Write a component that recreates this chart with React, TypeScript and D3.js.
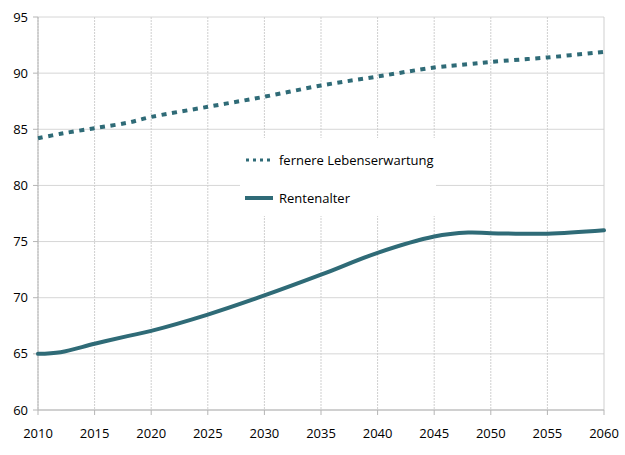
import * as d3 from 'd3'

const years = [2010, 2012, 2015, 2018, 2020, 2025, 2030, 2035, 2040, 2045, 2048, 2050, 2055, 2060]
const lebenserwartung = [84.2, 84.6, 85.1, 85.6, 86.1, 87.0, 87.9, 88.9, 89.7, 90.5, 90.8, 91.0, 91.4, 91.9]
const rentenalter = [65.0, 65.15, 65.9, 66.6, 67.05, 68.5, 70.2, 72.05, 74.0, 75.45, 75.8, 75.75, 75.7, 76.0]

const xTicks = [2010, 2015, 2020, 2025, 2030, 2035, 2040, 2045, 2050, 2055, 2060]
const yTicks = [60, 65, 70, 75, 80, 85, 90, 95]

const labelLebenserwartung = 'fernere Lebenserwartung'
const labelRentenalter = 'Rentenalter'

const WIDTH = 625
const HEIGHT = 455
const margin = { top: 17, right: 21, bottom: 45, left: 38 }
const TEAL = '#2f6b77'
const FONT = '"Open Sans", sans-serif'

export default function App() {
  const x = d3.scaleLinear().domain([2010, 2060]).range([margin.left, WIDTH - margin.right])
  const y = d3.scaleLinear().domain([60, 95]).range([HEIGHT - margin.bottom, margin.top])

  const line = (vals: number[]) =>
    d3
      .line<number>()
      .x((_, i) => x(years[i]))
      .y((d) => y(d))
      .curve(d3.curveCatmullRom.alpha(0.5))(vals) ?? ''

  // legend box blocks the grid underneath
  const legend = { x: 240, y: 138, w: 196, h: 78 }

  return (
    <svg
      width={WIDTH}
      height={HEIGHT}
      style={{ position: 'absolute', left: 0, top: 0, background: '#fff' }}
      fontFamily={FONT}
    >
      {/* grid */}
      {yTicks.map((t) => (
        <line key={'h' + t} x1={x(2010)} x2={x(2060)} y1={y(t)} y2={y(t)} stroke="#d6d6d6" strokeWidth={1} />
      ))}
      {xTicks.map((t) => (
        <line
          key={'v' + t}
          x1={x(t)}
          x2={x(t)}
          y1={y(95)}
          y2={y(60)}
          stroke="#cfcfcf"
          strokeWidth={1}
          strokeDasharray={t === 2060 ? undefined : '2,1'}
        />
      ))}

      <rect x={legend.x} y={legend.y} width={legend.w} height={legend.h} fill="#fff" />

      {/* axes */}
      <line x1={x(2010)} x2={x(2010)} y1={y(95)} y2={y(60)} stroke="#b5b5b5" />
      <line x1={x(2010)} x2={x(2060)} y1={y(60)} y2={y(60)} stroke="#b5b5b5" />
      {yTicks.map((t) => (
        <g key={'yt' + t}>
          <line x1={x(2010) - 5} x2={x(2010)} y1={y(t)} y2={y(t)} stroke="#b5b5b5" />
          <text x={x(2010) - 10} y={y(t)} dy="0.35em" textAnchor="end" fontSize={13} fill="#000">
            {t}
          </text>
        </g>
      ))}
      {xTicks.map((t) => (
        <g key={'xt' + t}>
          <line x1={x(t)} x2={x(t)} y1={y(60)} y2={y(60) + 5} stroke="#b5b5b5" />
          <text x={x(t)} y={y(60) + 28} textAnchor="middle" fontSize={13} fill="#000">
            {t}
          </text>
        </g>
      ))}

      {/* series */}
      <path d={line(lebenserwartung)} fill="none" stroke={TEAL} strokeWidth={4} strokeDasharray="5,5.5" />
      <path d={line(rentenalter)} fill="none" stroke={TEAL} strokeWidth={4} strokeLinecap="round" />

      {/* legend */}
      <line x1={246} x2={272} y1={160} y2={160} stroke={TEAL} strokeWidth={3} strokeDasharray="3,4" />
      <text x={279} y={160} dy="0.35em" fontSize={13} fill="#000">
        {labelLebenserwartung}
      </text>
      <line x1={245} x2={273} y1={198} y2={198} stroke={TEAL} strokeWidth={4} />
      <text x={279} y={198} dy="0.35em" fontSize={13} fill="#000">
        {labelRentenalter}
      </text>
    </svg>
  )
}
